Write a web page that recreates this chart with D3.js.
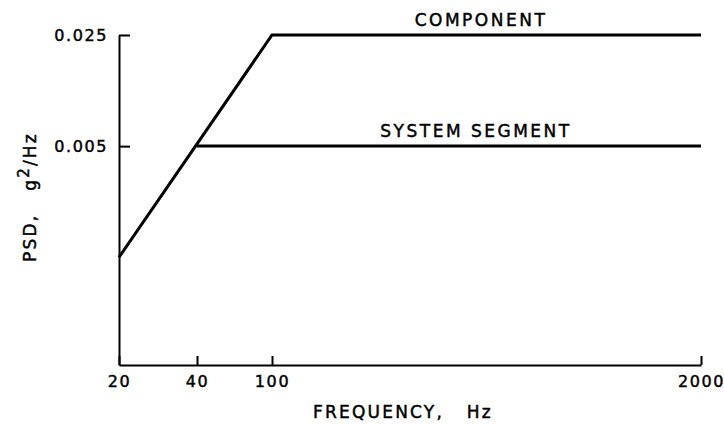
<!DOCTYPE html>
<html>
<head>
<meta charset="utf-8">
<script src="https://cdn.jsdelivr.net/npm/d3@7"></script>
<style>
  body { margin: 0; background: #fff; }
  text { font-family: "DejaVu Sans", sans-serif; fill: #000; stroke: #000; stroke-width: 0.45px; }
</style>
</head>
<body>
<div id="chart"></div>
<script>
// PSD test levels (schematic log-log plot)
const xTicks = [20, 40, 100, 2000];
const yTicks = [0.025, 0.005];
const componentFreq = [20, 100, 2000];
const componentPsd = [0.001, 0.025, 0.025];
const systemFreq = [40, 2000];
const systemPsd = [0.005, 0.005];
const seriesNames = ['COMPONENT', 'SYSTEM SEGMENT'];

const W = 724, H = 424;
const margin = { top: 35, right: 23, bottom: 59, left: 119 };
const width = W - margin.left - margin.right;
const height = H - margin.top - margin.bottom;

const svg = d3.select('#chart')
  .append('svg')
  .attr('width', W)
  .attr('height', H)
  .append('g')
  .attr('transform', `translate(${margin.left},${margin.top})`);

// x is drawn piecewise (the original is not to a true log scale)
const x = d3.scaleLinear()
  .domain(xTicks)
  .range([0, 78, 153, width]);

const y = d3.scaleLog()
  .domain([0.00021, 0.025])
  .range([height, 0]);

// axes
const xAxis = svg.append('g')
  .attr('transform', `translate(0,${height})`)
  .call(d3.axisBottom(x).tickValues(xTicks).tickFormat(d3.format('d'))
    .tickSizeInner(-9).tickSizeOuter(0).tickPadding(11));

const yAxis = svg.append('g')
  .call(d3.axisLeft(y).tickValues(yTicks).tickFormat(d3.format('.3f'))
    .tickSizeInner(-11).tickSizeOuter(0).tickPadding(11));

[xAxis, yAxis].forEach(g => {
  g.select('.domain').attr('stroke', '#000').attr('stroke-width', 2);
  g.selectAll('.tick line').attr('stroke', '#000').attr('stroke-width', 2);
  g.selectAll('.tick text')
    .style('font-size', '16px')
    .style('letter-spacing', '1.6px')
    .attr('fill', '#000');
});
yAxis.selectAll('.tick text').attr('dy', '0.36em');

// lines
const line = d3.line()
  .x(d => x(d[0]))
  .y(d => y(d[1]));

const componentData = d3.zip(componentFreq, componentPsd);
const systemData = d3.zip(systemFreq, systemPsd);

[componentData, systemData].forEach(data => {
  svg.append('path')
    .datum(data)
    .attr('fill', 'none')
    .attr('stroke', '#000')
    .attr('stroke-width', 3)
    .attr('stroke-linejoin', 'miter')
    .attr('d', line);
});

// series labels
svg.append('text')
  .attr('x', 362)
  .attr('y', y(0.025) - 9)
  .attr('text-anchor', 'middle')
  .style('font-size', '17px')
  .style('letter-spacing', '2.5px')
  .text(seriesNames[0]);

svg.append('text')
  .attr('x', 357)
  .attr('y', y(0.005) - 9)
  .attr('text-anchor', 'middle')
  .style('font-size', '17px')
  .style('letter-spacing', '2.5px')
  .text(seriesNames[1]);

// axis titles
svg.append('text')
  .attr('x', 284)
  .attr('y', height + 53)
  .attr('text-anchor', 'middle')
  .style('font-size', '17px')
  .style('letter-spacing', '2.2px')
  .style('white-space', 'pre')
  .text('FREQUENCY,   Hz');

const yTitle = svg.append('text')
  .attr('transform', 'rotate(-90)')
  .attr('x', -162)
  .attr('y', -83)
  .attr('text-anchor', 'middle')
  .style('font-size', '17px')
  .style('letter-spacing', '2.2px')
  .style('white-space', 'pre');
yTitle.append('tspan').text('PSD,   g');
yTitle.append('tspan').attr('dy', -7).style('font-size', '15px').text('2');
yTitle.append('tspan').attr('dy', 7).text('/Hz');
</script>
</body>
</html>
